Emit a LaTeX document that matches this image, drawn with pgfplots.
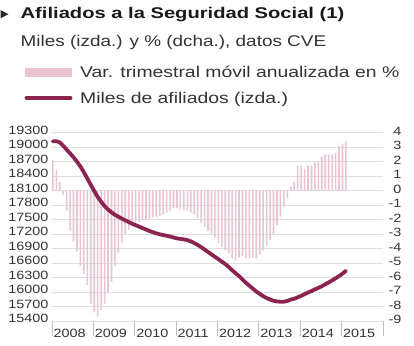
\documentclass[border=0pt]{standalone}
\usepackage{fontspec}
\setmainfont{Liberation Sans}
\newfontfamily\tickfont[FakeStretch=1.2]{Liberation Sans}
\newfontfamily\titlefont[FakeStretch=1.3]{Liberation Sans}
\newfontfamily\subfont[FakeStretch=1.22]{Liberation Sans}
\newfontfamily\legfont[FakeStretch=1.25]{Liberation Sans}
\usepackage{pgfplots}
\usepackage{pgfplotstable}
\pgfplotsset{compat=1.18}
\definecolor{linecol}{RGB}{140,36,82}
\definecolor{barcol}{RGB}{232,196,210}
\definecolor{gridcol}{RGB}{222,222,222}
\definecolor{txtcol}{RGB}{51,51,51}
\definecolor{tickmk}{RGB}{190,190,190}
\pgfplotstableread{
i v
0 2.1
1 1.45
2 0.6
3 -0.3
4 -1.4
5 -2.8
6 -3.5
7 -4.2
8 -5.2
9 -5.75
10 -6.5
11 -7.8
12 -8.4
13 -8.7
14 -8.25
15 -7.8
16 -7.0
17 -6.3
18 -5.2
19 -4.3
20 -3.6
21 -3.0
22 -2.7
23 -2.45
24 -2.2
25 -2.15
26 -2.05
27 -2.0
28 -1.95
29 -1.85
30 -1.8
31 -1.75
32 -1.65
33 -1.55
34 -1.4
35 -1.2
36 -1.2
37 -1.3
38 -1.35
39 -1.4
40 -1.5
41 -1.6
42 -1.9
43 -2.2
44 -2.5
45 -2.8
46 -3.0
47 -3.25
48 -3.6
49 -3.9
50 -4.1
51 -4.3
52 -4.7
53 -4.85
54 -4.6
55 -4.5
56 -4.7
57 -4.7
58 -4.6
59 -4.7
60 -4.4
61 -4.15
62 -3.8
63 -3.4
64 -3.0
65 -2.4
66 -1.8
67 -1.1
68 -0.5
69 0.3
70 0.6
71 1.7
72 1.65
73 1.5
74 1.75
75 1.75
76 2.0
77 2.05
78 2.35
79 2.5
80 2.5
81 2.5
82 2.6
83 3.05
84 3.25
85 3.4
}\bardata
\pgfplotstableread{
i v
0 19120
1 19125
2 19100
3 19030
4 18950
5 18870
6 18790
7 18700
8 18600
9 18480
10 18350
11 18220
12 18090
13 17970
14 17870
15 17780
16 17710
17 17650
18 17600
19 17560
20 17520
21 17485
22 17450
23 17415
24 17385
25 17355
26 17325
27 17295
28 17265
29 17240
30 17215
31 17195
32 17180
33 17165
34 17150
35 17130
36 17110
37 17100
38 17090
39 17075
40 17050
41 17015
42 16975
43 16930
44 16880
45 16830
46 16780
47 16730
48 16680
49 16630
50 16580
51 16520
52 16450
53 16390
54 16330
55 16260
56 16190
57 16130
58 16070
59 16010
60 15960
61 15915
62 15875
63 15845
64 15820
65 15805
66 15800
67 15800
68 15815
69 15845
70 15860
71 15890
72 15920
73 15955
74 15990
75 16020
76 16055
77 16085
78 16120
79 16160
80 16200
81 16240
82 16285
83 16330
84 16380
85 16440
}\linedata
\begin{document}
\begin{tikzpicture}[x=1pt,y=1pt]
\useasboundingbox (0,0) rectangle (414,345);
\begin{axis}[
  at={(52pt,24pt)}, anchor=south west, scale only axis,
  width=331pt, height=188.3pt,
  xmin=2008, xmax=2016, ymin=-9, ymax=4,
  axis line style={draw=none},
  xtick={2008,...,2016},
  xticklabels={2008,2009,2010,2011,2012,2013,2014,2015,{}},
  xtick pos=bottom, tick align=outside, major tick length=15pt,
  x tick style={draw=tickmk, line width=0.8pt},
  xticklabel style={anchor=north west, font=\tickfont\fontsize{12}{14}\selectfont, text=txtcol, xshift=-2pt, yshift=10pt},
  ytick={-9,...,4}, ytick pos=right, yticklabel pos=right,
  y tick style={draw=none},
  yticklabel style={anchor=east, font=\tickfont\fontsize{12}{14}\selectfont, text=txtcol, xshift=7pt, yshift=1.5pt},
  ymajorgrids, grid style={draw=gridcol, line width=0.8pt},
  /pgf/number format/assume math mode=true,
  clip=false,
]
\addplot[ybar, bar width=1.6pt, fill=barcol, draw=none] table[x expr=2008+(\thisrow{i}+0.25)/12, y=v]{\bardata};
\end{axis}
\begin{axis}[
  at={(52pt,24pt)}, anchor=south west, scale only axis,
  width=331pt, height=188.3pt,
  xmin=2008, xmax=2016, ymin=15400, ymax=19300,
  axis line style={draw=none},
  xtick=\empty,
  ytick={15400,15700,...,19300}, ytick pos=left,
  y tick style={draw=none},
  scaled y ticks=false,
  yticklabel style={font=\tickfont\fontsize{12}{14}\selectfont, text=txtcol, yshift=2.5pt},
  /pgf/number format/1000 sep={},
  /pgf/number format/assume math mode=true,
  clip=false,
]
\addplot[linecol, line width=3.8pt, line join=round, line cap=round] table[x expr=2008+(\thisrow{i}+0.25)/12, y=v]{\linedata};
\end{axis}
\fill[black!85] (0.5,335) -- (8.5,330.8) -- (0.5,326.7) -- cycle;
\node[anchor=base west, inner sep=0pt, text=black!90] at (20.5,326) {\titlefont\bfseries\fontsize{15.5}{18}\selectfont Afiliados a la Seguridad Social (1)};
\node[anchor=base west, inner sep=0pt, text=txtcol] at (20.5,298.3) {\subfont\fontsize{15.5}{18}\selectfont Miles (izda.) y \% (dcha.), datos CVE};
\fill[barcol] (25,268) rectangle (72,277);
\node[anchor=base west, inner sep=0pt, text=txtcol] at (80,267) {\legfont\fontsize{15.5}{18}\selectfont Var. trimestral móvil anualizada en \%};
\draw[linecol, line width=3.8pt, line cap=round] (26.5,247) -- (70.5,247);
\node[anchor=base west, inner sep=0pt, text=txtcol] at (80,241.5) {\legfont\fontsize{15.5}{18}\selectfont Miles de afiliados (izda.)};
\end{tikzpicture}
\end{document}
